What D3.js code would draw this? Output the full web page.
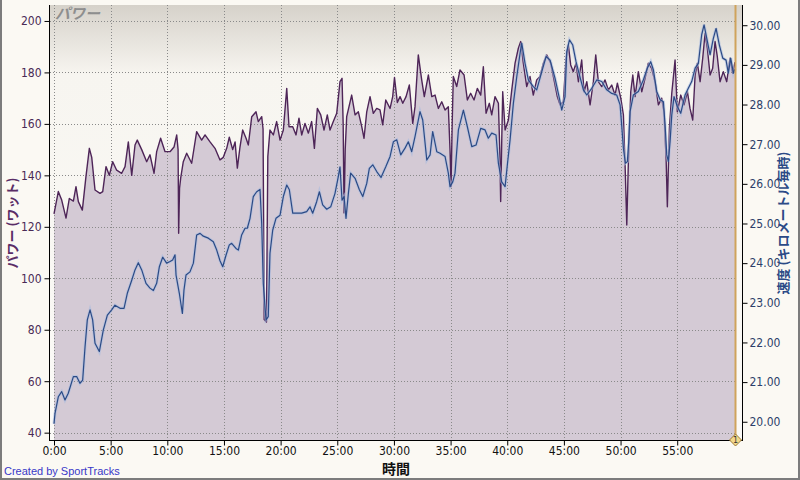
<!DOCTYPE html>
<html>
<head>
<meta charset="utf-8">
<script src="https://cdn.jsdelivr.net/npm/d3@7"></script>
<style>
  body { margin: 0; background: #fbf9f3; }
  svg { display: block; }
</style>
</head>
<body>
<svg width="800" height="480"></svg>
<script>
// power (watts), time in minutes
const powerTime = [0, 0.38, 0.68, 1.06, 1.35, 1.71, 1.94, 2.15, 2.5, 2.82, 3.12, 3.33, 3.62, 4.06, 4.3, 4.59, 4.88, 5.18, 5.53, 5.97,
  6.27, 6.56, 6.86, 7.15, 7.35, 7.74, 8.18, 8.47, 8.83, 9.06, 9.41, 9.8, 10.24, 10.59, 10.83, 10.95, 11.0, 11.08, 11.18, 11.41,
  11.71, 12.15, 12.59, 13.03, 13.33, 13.77, 14.21, 14.65, 14.94, 15.24, 15.47, 15.77, 15.98, 16.18, 16.42, 16.65, 16.95, 17.15, 17.45, 17.83,
  18.03, 18.33, 18.45, 18.55, 18.75, 18.87, 19.06, 19.36, 19.65, 19.95, 20.24, 20.54, 20.74, 21.07, 21.36, 21.62, 21.86, 22.15, 22.45, 22.74,
  22.98, 23.24, 23.54, 23.83, 24.12, 24.36, 24.65, 24.95, 25.24, 25.42, 25.52, 25.6, 25.7, 25.83, 26.27, 26.57, 26.86, 27.16, 27.36, 27.6,
  27.89, 28.18, 28.48, 28.77, 29.01, 29.28, 29.66, 29.89, 30.05, 30.3, 30.54, 30.78, 31.07, 31.36, 31.66, 31.86, 32.15, 32.45, 32.68, 33.04,
  33.34, 33.63, 33.92, 34.22, 34.51, 34.8, 34.95, 35.04, 35.14, 35.24, 35.54, 35.83, 36.19, 36.48, 36.77, 37.07, 37.36, 37.66, 37.89, 38.13,
  38.42, 38.63, 38.92, 39.22, 39.34, 39.42, 39.52, 39.6, 39.81, 40.1, 40.4, 40.69, 40.98, 41.19, 41.42, 41.72, 42.01, 42.3, 42.6, 42.89,
  43.19, 43.48, 43.84, 44.13, 44.42, 44.66, 44.95, 45.19, 45.39, 45.6, 45.83, 46.07, 46.28, 46.57, 46.78, 47.02, 47.31, 47.6, 47.81, 48.04,
  48.34, 48.63, 48.92, 49.22, 49.51, 49.72, 50.02, 50.25, 50.4, 50.55, 50.72, 50.9, 51.08, 51.28, 51.57, 51.87, 52.16, 52.45, 52.75, 53.04,
  53.34, 53.63, 53.84, 54.02, 54.13, 54.31, 54.52, 54.81, 55.01, 55.31, 55.6, 55.9, 56.13, 56.37, 56.58, 56.78, 57.02, 57.25, 57.46, 57.66,
  57.9, 58.13, 58.34, 58.54, 58.78, 59.07, 59.37, 59.66, 59.9, 60.1]
const power = [125, 133.7, 130.4, 123.4, 131, 130, 135.6, 129.8, 126.5, 139.5, 150.5, 147, 134.3, 133, 133.7, 143.4, 140, 145.3, 142, 140.8,
  143.4, 153, 140, 151.8, 153.7, 150, 145.3, 148, 140.8, 149.2, 154.4, 149.2, 149.2, 151, 155.7, 150, 117.5, 135, 138.9, 145.3,
  148.6, 144.7, 157, 153.7, 155.7, 153, 150.5, 146, 147, 150.5, 154.8, 150, 153, 142.8, 151.2, 157.6, 154.4, 151.8, 162.8, 164.7,
  160.9, 162.8, 158, 84, 83, 147.3, 157.6, 155.7, 160.9, 153.7, 157.6, 173.8, 158.9, 158.9, 155.7, 162.2, 155.7, 160.2, 156.4, 160.9,
  150.5, 166, 163.5, 157.6, 163.5, 157.6, 160.9, 164.1, 176.4, 177.7, 160, 125.4, 150, 162.8, 171.2, 163.5, 164.7, 158.9, 154.4, 164.7,
  170.6, 164.1, 166, 165.4, 159.6, 169.3, 166, 170.6, 178, 168.3, 170.6, 168, 170.6, 175.1, 160.2, 166.7, 186.8, 177.1, 170.6, 179,
  170.6, 171.2, 166, 168.6, 165.4, 166.7, 150, 135.6, 160, 178.4, 174.5, 181, 179, 169.3, 171.9, 169.3, 173.8, 171.2, 182.2, 164.1,
  168, 163.5, 170.6, 168, 150, 129.8, 155, 172.5, 157.6, 161.5, 173.2, 183.6, 189.4, 192, 183.6, 174.5, 178.4, 171.2, 177.1, 178.4,
  183.6, 186.8, 183.6, 177.1, 170.6, 167.4, 168.6, 185.5, 190.7, 182.9, 180.3, 183.6, 176.4, 184.8, 172.5, 176.4, 167.4, 176.4, 186.8, 176.4,
  174.5, 177.1, 173.2, 175.1, 171.2, 175.8, 170, 163.5, 144, 120.7, 150.5, 172.5, 179, 170.6, 180.3, 172.5, 177.7, 183.6, 181.6, 176.4,
  167.4, 170, 164.7, 146.6, 127.8, 158.3, 171.9, 184.8, 164.7, 171.2, 167.4, 172.5, 166, 161.5, 179, 183.6, 176.4, 185.5, 195.2, 189.4,
  179, 181.6, 192, 186.1, 176.4, 180.3, 176.4, 185.5, 179.7, 184]

// speed (km/h)
const speedTime = [0, 0.09, 0.38, 0.68, 0.97, 1.26, 1.71, 2.0, 2.29, 2.53, 2.74, 2.94, 3.18, 3.41, 3.62, 4.0, 4.35, 4.71, 5.09, 5.38,
  5.83, 6.18, 6.47, 6.86, 7.15, 7.44, 7.74, 8.12, 8.47, 8.77, 9.06, 9.3, 9.59, 9.94, 10.24, 10.47, 10.68, 10.77, 11.06, 11.33,
  11.47, 11.65, 12.0, 12.3, 12.59, 12.89, 13.18, 13.62, 14.06, 14.36, 14.65, 14.89, 15.18, 15.47, 15.68, 16.06, 16.27, 16.56, 16.86, 17.06,
  17.3, 17.59, 17.89, 18.18, 18.33, 18.47, 18.71, 18.91, 19.06, 19.3, 19.59, 19.95, 20.24, 20.54, 20.77, 21.07, 21.42, 21.86, 22.3, 22.59,
  22.83, 23.18, 23.42, 23.71, 24.07, 24.42, 24.8, 25.09, 25.24, 25.42, 25.6, 25.77, 25.98, 26.18, 26.57, 26.95, 27.25, 27.6, 27.83, 28.13,
  28.48, 28.86, 29.28, 29.66, 29.95, 30.25, 30.6, 30.98, 31.27, 31.57, 31.86, 32.3, 32.54, 32.9, 33.19, 33.42, 33.78, 34.07, 34.51, 34.8,
  34.95, 35.19, 35.39, 35.69, 36.13, 36.48, 36.87, 37.25, 37.66, 38.04, 38.33, 38.63, 39.01, 39.22, 39.51, 39.81, 40.01, 40.25, 40.54, 40.84,
  41.13, 41.28, 41.57, 41.86, 42.3, 42.6, 43.05, 43.43, 43.78, 44.22, 44.6, 44.81, 45.1, 45.25, 45.49, 45.78, 46.07, 46.37, 46.72, 47.02,
  47.46, 47.9, 48.34, 48.78, 49.22, 49.66, 49.96, 50.1, 50.25, 50.43, 50.6, 50.72, 50.84, 51.13, 51.57, 52.01, 52.37, 52.66, 52.9, 53.19,
  53.49, 53.78, 53.93, 54.08, 54.22, 54.37, 54.52, 54.72, 55.01, 55.31, 55.69, 55.98, 56.28, 56.58, 56.87, 57.16, 57.37, 57.61, 57.9, 58.19,
  58.43, 58.72, 59.02, 59.31, 59.51, 59.72, 59.96, 60.1]
const speed = [19.95, 20.21, 20.63, 20.76, 20.55, 20.72, 21.14, 21.14, 20.97, 21.05, 21.89, 22.57, 22.82, 22.57, 21.98, 21.77, 22.31, 22.69, 22.82, 22.94,
  22.86, 22.86, 23.24, 23.57, 23.83, 24.01, 23.83, 23.49, 23.37, 23.31, 23.49, 23.91, 24.15, 24.0, 24.04, 24.08, 24.21, 23.7, 23.24, 22.73,
  23.32, 23.7, 23.78, 24.0, 24.71, 24.75, 24.68, 24.63, 24.54, 24.33, 24.06, 23.91, 24.2, 24.46, 24.5, 24.37, 24.33, 24.71, 24.88, 24.88,
  25.13, 25.68, 25.8, 25.86, 25.0, 23.49, 22.57, 22.65, 24.25, 24.83, 25.13, 25.21, 25.68, 25.97, 25.85, 25.26, 25.26, 25.26, 25.3, 25.42,
  25.26, 25.55, 25.8, 25.47, 25.36, 25.42, 25.76, 26.18, 26.43, 25.59, 25.68, 25.13, 25.76, 26.27, 26.14, 25.85, 25.68, 26.01, 26.39, 26.48,
  26.31, 26.16, 26.43, 26.69, 27.06, 27.11, 26.73, 26.9, 27.06, 26.81, 27.19, 27.82, 27.61, 26.6, 26.73, 27.32, 26.81, 26.77, 26.69, 26.27,
  25.93, 26.05, 26.27, 27.36, 27.86, 27.44, 26.94, 26.98, 27.4, 27.36, 27.15, 27.28, 27.23, 26.52, 26.05, 25.93, 26.48, 27.11, 28.03, 28.7,
  29.29, 29.55, 29.04, 28.62, 28.45, 28.37, 28.83, 29.21, 29.12, 28.66, 28.16, 27.86, 28.2, 29.33, 29.63, 29.5, 29.08, 28.75, 28.37, 28.24,
  28.41, 28.62, 28.58, 28.37, 28.28, 28.24, 27.99, 27.48, 26.9, 26.52, 26.56, 27.06, 27.82, 28.24, 28.33, 28.62, 28.92, 29.08, 28.87, 28.33,
  28.12, 28.07, 27.48, 26.73, 26.56, 27.06, 27.74, 28.2, 27.95, 27.78, 28.24, 28.41, 28.58, 28.92, 29.04, 29.76, 30.01, 29.67, 29.25, 29.67,
  29.92, 29.5, 29.17, 29.12, 28.79, 29.17, 28.79, 28.9]

const powerTicks = [40, 60, 80, 100, 120, 140, 160, 180, 200]
const speedTicks = [20, 21, 22, 23, 24, 25, 26, 27, 28, 29, 30]
const timeTicks = [0, 5, 10, 15, 20, 25, 30, 35, 40, 45, 50, 55]

const svg = d3.select("svg")
const plotLeft = 50, plotRight = 742, plotTop = 5, plotBottom = 440
const numFont = "'Liberation Sans Narrow', 'Arial Narrow', 'DejaVu Sans Condensed', sans-serif"
const jpFont = "'Noto Sans CJK JP', 'Noto Sans', sans-serif"

const x = d3.scaleLinear().domain([0, 60.1]).range([54, 735])
const yP = d3.scaleLinear().domain([37.15, 206.2]).range([plotBottom, plotTop])
const yS = d3.scaleLinear().domain([19.54, 30.51]).range([plotBottom, plotTop])

// frame lines
svg.append("rect").attr("width", 800).attr("height", 480).attr("fill", "#fbf9f3")
svg.append("path").attr("d", "M1,0V479H799V0").attr("fill", "none")
  .attr("stroke", "#7c7c7c").attr("stroke-width", 2)

// plot background gradient
const grad = svg.append("defs").append("linearGradient")
  .attr("id", "bg").attr("x1", 0).attr("y1", 0).attr("x2", 0).attr("y2", 1)
grad.append("stop").attr("offset", "0%").attr("stop-color", "#d6d2ca")
grad.append("stop").attr("offset", "16%").attr("stop-color", "#f7f5f0")
grad.append("stop").attr("offset", "100%").attr("stop-color", "#fbfaf7")
svg.append("rect").attr("x", plotLeft).attr("y", plotTop)
  .attr("width", plotRight - plotLeft).attr("height", plotBottom - plotTop)
  .attr("fill", "url(#bg)")

const pts = powerTime.map((t, i) => [t, power[i]])
const spts = speedTime.map((t, i) => [t, speed[i]])

// power area
svg.append("path").datum(pts)
  .attr("fill", "#d4cad5")
  .attr("d", d3.area().x(d => x(d[0])).y0(plotBottom).y1(d => yP(d[1])))

// grid
const grid = svg.append("g").attr("stroke", "#8a8a8a").attr("stroke-dasharray", "1,2").attr("stroke-width", 1)
grid.selectAll(".h").data(powerTicks).join("line")
  .attr("x1", plotLeft).attr("x2", 735)
  .attr("y1", d => Math.round(yP(d)) + 0.5).attr("y2", d => Math.round(yP(d)) + 0.5)
grid.selectAll(".v").data(timeTicks).join("line")
  .attr("x1", d => Math.round(x(d)) + 0.5).attr("x2", d => Math.round(x(d)) + 0.5)
  .attr("y1", plotTop).attr("y2", plotBottom)

// series lines
svg.append("path").datum(pts)
  .attr("fill", "none").attr("stroke", "#4e2558").attr("stroke-width", 1.4)
  .attr("stroke-linejoin", "round")
  .attr("d", d3.line().x(d => x(d[0])).y(d => yP(d[1])))

const speedLine = d3.line().x(d => x(d[0])).y(d => yS(d[1]))
svg.append("path").datum(spts)
  .attr("fill", "none").attr("stroke", "#a9bbe0").attr("stroke-width", 3).attr("opacity", 0.6)
  .attr("d", speedLine)
svg.append("path").datum(spts)
  .attr("fill", "none").attr("stroke", "#2b4a85").attr("stroke-width", 1.2)
  .attr("stroke-linejoin", "round")
  .attr("d", speedLine)

// end marker line
svg.append("line").attr("x1", 735.5).attr("x2", 735.5).attr("y1", plotTop).attr("y2", plotBottom)
  .attr("stroke", "#cfa35c").attr("stroke-width", 2)

// axes
svg.append("line").attr("x1", plotLeft - 0.5).attr("x2", plotLeft - 0.5).attr("y1", plotTop).attr("y2", plotBottom)
  .attr("stroke", "#000")
svg.append("line").attr("x1", plotRight + 0.5).attr("x2", plotRight + 0.5).attr("y1", plotTop).attr("y2", plotBottom)
  .attr("stroke", "#000")
svg.append("line").attr("x1", plotLeft - 1).attr("x2", plotRight + 1).attr("y1", plotBottom + 0.5).attr("y2", plotBottom + 0.5)
  .attr("stroke", "#000")

const axL = svg.append("g").attr("transform", `translate(${plotLeft - 0.5},0)`)
  .call(d3.axisLeft(yP).tickValues(powerTicks).tickSize(5).tickSizeOuter(0).tickPadding(3))
axL.select(".domain").remove()
axL.selectAll("line").attr("stroke", "#000")
axL.selectAll("text").attr("fill", "#4a2a55").style("font-family", numFont).style("font-size", "12px")

const axR = svg.append("g").attr("transform", `translate(${plotRight + 0.5},0)`)
  .call(d3.axisRight(yS).tickValues(speedTicks).tickSize(5).tickSizeOuter(0).tickPadding(2)
    .tickFormat(d3.format(".2f")))
axR.select(".domain").remove()
axR.selectAll("line").attr("stroke", "#000")
axR.selectAll("text").attr("fill", "#2c3f6a").style("font-family", numFont).style("font-size", "12px")

const axB = svg.append("g").attr("transform", `translate(0,${plotBottom + 0.5})`)
  .call(d3.axisBottom(x).tickValues(timeTicks).tickSize(5).tickSizeOuter(0).tickPadding(1)
    .tickFormat(d => d + ":00"))
axB.select(".domain").remove()
axB.selectAll("line").attr("stroke", "#000")
axB.selectAll("text").attr("fill", "#111").style("font-family", numFont).style("font-size", "12px")

// marker diamond at the end
const mk = svg.append("g").attr("transform", `translate(735.5,${plotBottom})`)
mk.append("path").attr("d", "M0,-6L6,0L0,6L-6,0Z").attr("fill", "#f3d98a").attr("stroke", "#9c7a36")
mk.append("text").attr("text-anchor", "middle").attr("y", 3).attr("font-size", 8)
  .attr("font-family", "'DejaVu Sans', sans-serif").attr("fill", "#333").text("1")

// titles
svg.append("text").attr("transform", "translate(17,223) rotate(-90)").attr("text-anchor", "middle")
  .style("font-family", jpFont).style("font-size", "13px").style("font-weight", "bold")
  .attr("fill", "#5a2d66").text("パワー (ワット)")
svg.append("text").attr("transform", "translate(788,223) rotate(-90)").attr("text-anchor", "middle")
  .style("font-family", jpFont).style("font-size", "13px").style("font-weight", "bold")
  .attr("fill", "#2b4a86").text("速度 (キロメートル毎時)")
svg.append("text").attr("x", 396).attr("y", 474).attr("text-anchor", "middle")
  .style("font-family", jpFont).style("font-size", "14px").style("font-weight", "bold")
  .attr("fill", "#111").text("時間")
svg.append("text").attr("x", 55).attr("y", 19)
  .style("font-family", jpFont).style("font-size", "15px").style("font-style", "italic")
  .style("font-weight", "bold").attr("fill", "#8e8e8e").text("パワー")
svg.append("text").attr("x", 4).attr("y", 475)
  .style("font-family", "'Liberation Sans', sans-serif").style("font-size", "11px")
  .attr("fill", "#3838c8").text("Created by SportTracks")
</script>
</body>
</html>
